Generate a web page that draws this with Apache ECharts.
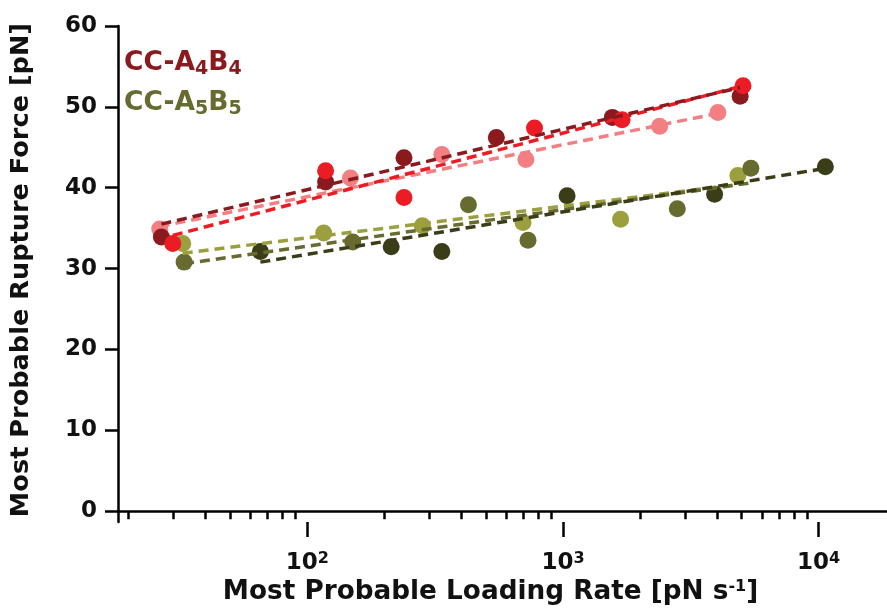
<!DOCTYPE html>
<html>
<head>
<meta charset="utf-8">
<script src="https://cdn.jsdelivr.net/npm/echarts@6/dist/echarts.min.js"></script>
<style>html,body{margin:0;padding:0;background:#fff}#c{width:887px;height:610px}</style>
</head>
<body>
<div id="c"></div>
<script>
// ---- data ----
const darkRedX = [26.9, 118, 239, 549, 1560, 4930];
const darkRedY = [33.9, 40.7, 43.7, 46.2, 48.7, 51.3];
const redX = [29.8, 118, 239, 774, 1703, 5060];
const redY = [33.1, 42.1, 38.8, 47.4, 48.4, 52.6];
const pinkX = [26.5, 147.6, 336, 716, 2388, 4036];
const pinkY = [34.9, 41.2, 44.1, 43.5, 47.6, 49.3];
const darkOliveX = [65.6, 213, 336, 1038, 3918, 10620];
const darkOliveY = [32.1, 32.7, 32.1, 39.0, 39.2, 42.6];
const oliveX = [33.0, 150.6, 427, 730, 2800, 5430];
const oliveY = [30.8, 33.3, 37.9, 33.5, 37.4, 42.4];
const lightOliveX = [32.6, 116, 282, 698, 1680, 4830];
const lightOliveY = [33.1, 34.4, 35.3, 35.7, 36.1, 41.5];

const darkRedFitX = [26.9, 4930], darkRedFitY = [35.5, 52.4];
const redFitX = [29.8, 5060], redFitY = [34.1, 52.6];
const pinkFitX = [26.5, 4036], pinkFitY = [35.2, 49.2];
const darkOliveFitX = [65.6, 10620], darkOliveFitY = [30.8, 42.4];
const oliveFitX = [33.0, 5430], oliveFitY = [30.6, 40.6];
const lightOliveFitX = [32.6, 4830], lightOliveFitY = [31.9, 40.4];

const yTicks = [0, 10, 20, 30, 40, 50, 60];
const xMajorTicks = [100, 1000, 10000];
const xMinorTicks = [20, 30, 40, 50, 60, 70, 80, 90, 200, 300, 400, 500, 600, 700, 800, 900,
                     2000, 3000, 4000, 5000, 6000, 7000, 8000, 9000];
const legendLabels = ['CC-A{s|4}B{s|4}', 'CC-A{s|5}B{s|5}'];

const C = {
  darkRed: '#8b1a1f', red: '#ec1c24', pink: '#f37f82',
  darkOlive: '#3a3d17', olive: '#676b2f', lightOlive: '#9b9f3d'
};

const zip = (xs, ys) => xs.map((x, i) => [x, ys[i]]);
const FONT = '"DejaVu Sans", "Liberation Sans", Arial, sans-serif';

function scatter(name, xs, ys, color) {
  return { name, type: 'scatter', data: zip(xs, ys), symbolSize: 17,
    itemStyle: { color, opacity: 1 }, z: 2, xAxisIndex: 0, yAxisIndex: 0 };
}
function fit(name, xs, ys, color) {
  return { name, type: 'line', data: zip(xs, ys), showSymbol: false, symbol: 'none',
    lineStyle: { color, width: 3.5, type: [10, 6] }, z: 3, xAxisIndex: 0, yAxisIndex: 0, silent: true };
}

const chart = echarts.init(document.getElementById('c'), null, { renderer: 'canvas' });
const subRich = (color) => ({
  s: { fontSize: 19, fontWeight: 'bold', fontFamily: FONT, color, verticalAlign: 'bottom', lineHeight: 32 }
});
const supRich = { sup: { fontSize: 16, fontWeight: 'bold', fontFamily: FONT, color: '#111', verticalAlign: 'top', lineHeight: 16 } };
chart.setOption({
  animation: false,
  backgroundColor: '#fff',
  textStyle: { fontFamily: FONT },
  title: [
    { text: legendLabels[0], left: 119, top: 42,
      textStyle: { color: C.darkRed, fontSize: 26.5, fontWeight: 'bold', fontFamily: FONT, lineHeight: 28, rich: subRich(C.darkRed) } },
    { text: legendLabels[1], left: 119, top: 82,
      textStyle: { color: C.olive, fontSize: 26.5, fontWeight: 'bold', fontFamily: FONT, lineHeight: 28, rich: subRich(C.olive) } }
  ],
  grid: { left: 112, right: 0, top: 26, bottom: 85, containLabel: false },
  xAxis: [
    { type: 'log', min: 18.2, max: 18500, gridIndex: 0, position: 'bottom',
      axisLine: { show: true, lineStyle: { color: '#000', width: 2.5 } },
      axisTick: { show: true, length: 8, lineStyle: { color: '#000', width: 2.5 }, customValues: xMinorTicks },
      axisLabel: { show: false },
      splitLine: { show: false }, minorTick: { show: false } },
    { type: 'log', min: 18.2, max: 18500, gridIndex: 0, position: 'bottom', offset: 0,
      axisLine: { show: false },
      axisTick: { show: true, length: 15, lineStyle: { color: '#000', width: 2.5 }, customValues: xMajorTicks },
      axisLabel: { show: true, margin: 29, customValues: xMajorTicks,
        formatter: v => '10{sup|' + Math.round(Math.log10(v)) + '}',
        color: '#111', fontSize: 23, fontWeight: 'bold', fontFamily: FONT, rich: supRich },
      splitLine: { show: false },
      name: 'Most Probable Loading Rate [pN s{sup|-1}]', nameLocation: 'middle', nameGap: 56,
      nameTextStyle: { color: '#111', fontSize: 26.3, fontWeight: 'bold', fontFamily: FONT, padding: [0, 24, 0, 0], rich: supRich } }
  ],
  yAxis: [
    { type: 'value', min: -1.35, max: 60, gridIndex: 0,
      axisLine: { show: true, lineStyle: { color: '#000', width: 2.5 } },
      axisTick: { show: true, length: 13, lineStyle: { color: '#000', width: 2.5 }, customValues: yTicks },
      axisLabel: { show: true, margin: 21, customValues: yTicks, color: '#111', fontSize: 23, fontWeight: 'bold', fontFamily: FONT },
      splitLine: { show: false },
      name: 'Most Probable Rupture Force [pN]', nameLocation: 'middle', nameGap: 84, nameRotate: 90,
      nameTextStyle: { color: '#111', fontSize: 25.6, fontWeight: 'bold', fontFamily: FONT, padding: [0, 0, 0, 8] } }
  ],
  series: [
    scatter('lightOlive', lightOliveX, lightOliveY, C.lightOlive),
    scatter('olive', oliveX, oliveY, C.olive),
    scatter('darkOlive', darkOliveX, darkOliveY, C.darkOlive),
    scatter('pink', pinkX, pinkY, C.pink),
    scatter('darkRed', darkRedX, darkRedY, C.darkRed),
    scatter('red', redX, redY, C.red),
    fit('lightOliveFit', lightOliveFitX, lightOliveFitY, C.lightOlive),
    fit('oliveFit', oliveFitX, oliveFitY, C.olive),
    fit('darkOliveFit', darkOliveFitX, darkOliveFitY, C.darkOlive),
    fit('pinkFit', pinkFitX, pinkFitY, C.pink),
    fit('redFit', redFitX, redFitY, C.red),
    fit('darkRedFit', darkRedFitX, darkRedFitY, C.darkRed)
  ]
});
</script>
</body>
</html>
